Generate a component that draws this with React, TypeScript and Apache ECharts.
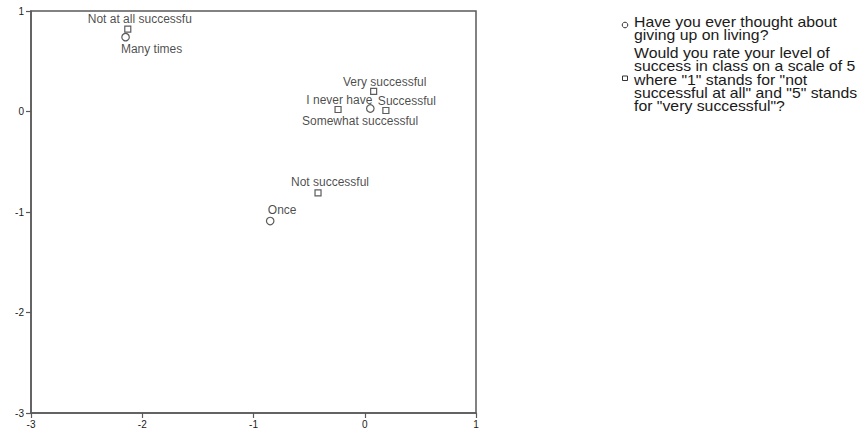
import React, { useEffect, useRef } from "react";
import * as echarts from "echarts";

// Series 1: "Have you ever thought about giving up on living?" (circles)
const livingCategories = ["Many times", "I never have", "Once"];
const livingX = [-2.15, 0.05, -0.85];
const livingY = [0.74, 0.03, -1.09];

// Series 2: success rating (squares)
const successCategories = [
  "Not at all successfu",
  "Very successful",
  "Successful",
  "Somewhat successful",
  "Not successful",
];
const successX = [-2.13, 0.08, 0.19, -0.24, -0.42];
const successY = [0.82, 0.2, 0.01, 0.02, -0.81];

const axisTicks = [-3, -2, -1, 0, 1];

const legendCircleLines = ["Have you ever thought about", "giving up on living?"];
const legendSquareLines = [
  "Would you rate your level of",
  "success in class on a scale of 5",
  'where "1" stands for "not',
  'successful at all" and "5" stands',
  'for "very successful"?',
];

// label placement (offset of label center from the point), layout only
const livingLabelOffsets: Record<string, [number, number]> = {
  "Many times": [26, 12],
  "I never have": [-31, -8],
  Once: [12, -11],
};
const successLabelOffsets: Record<string, [number, number]> = {
  "Not at all successfu": [12, -10],
  "Very successful": [11, -9],
  Successful: [21, -9],
  "Somewhat successful": [22, 12],
  "Not successful": [12, -11],
};

const FONT = "'Liberation Sans', Arial, sans-serif";
const TEXT = "#1a1a1a";
const AXIS = "#5a5a5a";

export default function App() {
  const ref = useRef<HTMLDivElement>(null);
  useEffect(() => {
    if (!ref.current) return;
    const chart = echarts.init(ref.current, undefined, { renderer: "svg" });

    const labelStyle = (off: [number, number]) => ({
      show: true,
      position: "inside",
      offset: off,
      fontSize: 12,
      fontFamily: FONT,
      color: TEXT,
      align: "center",
      verticalAlign: "middle",
    });

    const livingData = livingCategories.map((name, i) => ({
      name,
      value: [livingX[i], livingY[i]],
      label: { ...labelStyle(livingLabelOffsets[name]), formatter: name },
    }));
    const successData = successCategories.map((name, i) => ({
      name,
      value: [successX[i], successY[i]],
      label: { ...labelStyle(successLabelOffsets[name]), formatter: name },
    }));

    const lineH = 13.3;
    const textX = 634;
    const item1Top = 21.7;
    const item2Top = 53;
    const legendGraphics: any[] = [];
    const addLine = (t: string, y: number) =>
      legendGraphics.push({
        type: "text",
        x: textX,
        y,
        scaleX: 1.13,
        style: {
          text: t,
          fontSize: 14,
          lineHeight: 12.5,
          fontFamily: FONT,
          fill: TEXT,
          verticalAlign: "middle",
        },
      });
    legendCircleLines.forEach((t, i) => addLine(t, item1Top + i * lineH));
    legendSquareLines.forEach((t, i) => addLine(t, item2Top + i * lineH));
    legendGraphics.push({
      type: "circle",
      shape: { cx: 625, cy: 25, r: 2.8 },
      style: { fill: "none", stroke: "#333", lineWidth: 1 },
    });
    legendGraphics.push({
      type: "rect",
      shape: { x: 622.5, y: 76, width: 5, height: 4.5 },
      style: { fill: "none", stroke: "#333", lineWidth: 1 },
    });

    const axisCommon = {
      type: "value" as const,
      min: -3,
      max: 1,
      interval: 1,
      axisLine: { show: true, onZero: false, lineStyle: { color: AXIS, width: 1.5 } },
      axisTick: { show: true, inside: false, length: 5, lineStyle: { color: AXIS, width: 1.2 } },
      splitLine: { show: false },
    };

    chart.setOption({
      animation: false,
      backgroundColor: "#ffffff",
      grid: {
        left: 31,
        right: 384,
        top: 11,
        bottom: 19,
        show: true,
        borderColor: AXIS,
        borderWidth: 1.5,
        containLabel: false,
      },
      xAxis: {
        ...axisCommon,
        axisLabel: {
          fontSize: 10,
          fontFamily: FONT,
          color: TEXT,
          margin: 6,
          formatter: (v: number) => (axisTicks.includes(v) ? String(v) : ""),
        },
      },
      yAxis: {
        ...axisCommon,
        axisLabel: {
          fontSize: 10,
          fontFamily: FONT,
          color: TEXT,
          margin: 7,
          formatter: (v: number) => (axisTicks.includes(v) ? String(v) : ""),
        },
      },
      series: [
        {
          name: "Have you ever thought about giving up on living?",
          type: "scatter",
          symbol: "circle",
          symbolSize: 7.5,
          itemStyle: { color: "#ffffff", borderColor: "#333", borderWidth: 1.2 },
          data: livingData,
        },
        {
          name: "Success rating",
          type: "scatter",
          symbol: "rect",
          symbolSize: 6,
          itemStyle: { color: "#ffffff", borderColor: "#333", borderWidth: 1.2 },
          data: successData,
        },
      ],
      graphic: legendGraphics,
    });
    return () => chart.dispose();
  }, []);
  return <div ref={ref} style={{ width: 860, height: 432, position: "absolute", left: 0, top: 0 }} />;
}
